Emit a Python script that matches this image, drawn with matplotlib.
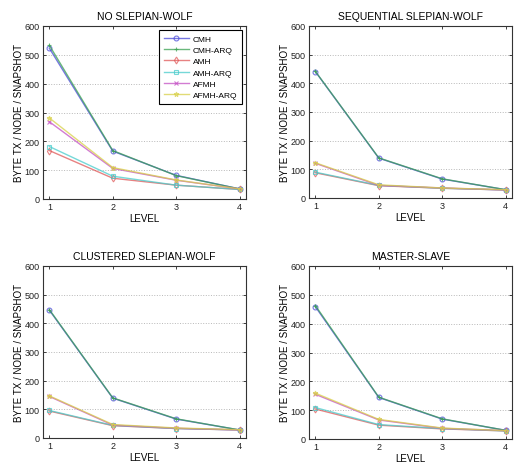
import matplotlib
matplotlib.use("Agg")
import matplotlib.pyplot as plt

plt.rcParams['font.family'] = ['Liberation Sans', 'DejaVu Sans']

levels = [1, 2, 3, 4]
series_names = ["CMH", "CMH-ARQ", "AMH", "AMH-ARQ", "AFMH", "AFMH-ARQ"]
titles = ["NO SLEPIAN-WOLF", "SEQUENTIAL SLEPIAN-WOLF", "CLUSTERED SLEPIAN-WOLF", "MASTER-SLAVE"]

no_sw = {
    "CMH":      [523, 166, 82, 35],
    "CMH-ARQ":  [533, 168, 81, 35],
    "AMH":      [168, 72, 48, 33],
    "AMH-ARQ":  [182, 79, 48, 33],
    "AFMH":     [268, 106, 65, 35],
    "AFMH-ARQ": [281, 109, 66, 35],
}
sequential_sw = {
    "CMH":      [441, 139, 66, 29],
    "CMH-ARQ":  [442, 140, 67, 29],
    "AMH":      [88, 43, 34, 28],
    "AMH-ARQ":  [90, 44, 34, 28],
    "AFMH":     [121, 44, 35, 28],
    "AFMH-ARQ": [123, 46, 35, 29],
}
clustered_sw = {
    "CMH":      [446, 139, 66, 28],
    "CMH-ARQ":  [448, 140, 67, 28],
    "AMH":      [94, 43, 33, 28],
    "AMH-ARQ":  [96, 44, 33, 28],
    "AFMH":     [145, 45, 34, 28],
    "AFMH-ARQ": [147, 47, 35, 29],
}
master_slave = {
    "CMH":      [459, 144, 69, 30],
    "CMH-ARQ":  [463, 145, 70, 30],
    "AMH":      [104, 48, 35, 28],
    "AMH-ARQ":  [109, 50, 36, 28],
    "AFMH":     [155, 66, 37, 29],
    "AFMH-ARQ": [159, 68, 38, 29],
}
datasets = [no_sw, sequential_sw, clustered_sw, master_slave]

colors = {"CMH": "#4848d8", "CMH-ARQ": "#38a050", "AMH": "#e05858",
          "AMH-ARQ": "#48cccc", "AFMH": "#c450c4", "AFMH-ARQ": "#d8d048"}
markers = {"CMH": "o", "CMH-ARQ": "+", "AMH": "d", "AMH-ARQ": "s",
           "AFMH": "x", "AFMH-ARQ": "*"}

fig = plt.figure(figsize=(5.18, 4.64), dpi=100)
W, H = 518, 464
boxes = [(43, 27, 246, 200), (309, 27, 512, 199), (43, 267, 246, 439), (309, 267, 512, 440)]

for i, (data, title, (l, t, r, b)) in enumerate(zip(datasets, titles, boxes)):
    ax = fig.add_axes([l / W, 1 - b / H, (r - l) / W, (b - t) / H])
    for name in series_names:
        ax.plot(levels, data[name], color=colors[name], marker=markers[name],
                markersize=3.5, markerfacecolor='none', markeredgewidth=0.8,
                linewidth=1.0, alpha=0.75, label=name)
    ax.set_xlim(0.9, 4.1)
    ax.set_ylim(0, 600)
    ax.set_xticks(levels)
    ax.set_yticks([0, 100, 200, 300, 400, 500, 600])
    ax.yaxis.grid(True, linestyle=':', color='#b8b8b8', linewidth=0.7)
    ax.tick_params(direction='in', top=True, right=True, labelsize=6.5,
                   length=2.5, width=0.6, pad=2.5, colors='#222222')
    for s in ax.spines.values():
        s.set_linewidth(0.8)
        s.set_color('#333333')
    ax.set_title(title, fontsize=7.5, pad=5)
    ax.set_xlabel("LEVEL", fontsize=7, labelpad=1)
    ax.set_ylabel("BYTE TX / NODE / SNAPSHOT", fontsize=7, labelpad=0)
    if i == 0:
        leg = ax.legend(loc='upper right', fontsize=6, handlelength=3.0,
                        fancybox=False, edgecolor='black', framealpha=1,
                        borderaxespad=0.45, labelspacing=0.42, borderpad=0.6,
                        handletextpad=0.5)
        leg.get_frame().set_linewidth(0.8)

fig.savefig("out.png", dpi=100)
